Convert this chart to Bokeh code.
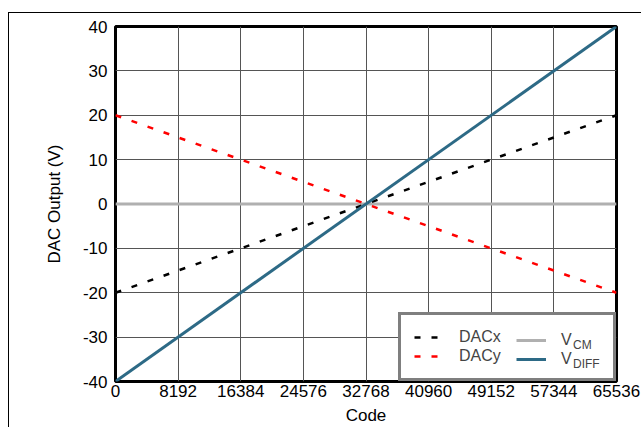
from bokeh.plotting import figure
from bokeh.models import Range1d, FixedTicker, Legend, LegendItem
from bokeh.embed import file_html
from bokeh.resources import INLINE

# ---- data ----
code = [0, 65536]
dacx = [-20, 20]
dacy = [20, -20]
vcm = [0, 0]
vdiff = [-40, 40]
x_ticks = [0, 8192, 16384, 24576, 32768, 40960, 49152, 57344, 65536]
y_ticks = [-40, -30, -20, -10, 0, 10, 20, 30, 40]

FONT = "Liberation Sans"

p = figure(width=633, height=415, output_backend="svg", toolbar_location=None,
           x_range=Range1d(0, 65536), y_range=Range1d(-40, 40),
           min_border_left=106, min_border_right=26, min_border_top=13, min_border_bottom=47)
p.styles = {"margin-left": "8px", "margin-top": "12px",
            "border-left": "1px solid black", "border-top": "1px solid black"}

p.outline_line_color = "black"
p.outline_line_width = 3
p.background_fill_color = "white"
p.border_fill_color = "white"

p.xaxis.ticker = FixedTicker(ticks=x_ticks)
p.yaxis.ticker = FixedTicker(ticks=y_ticks)
p.yaxis.major_label_overrides = {t: str(t) for t in y_ticks}
p.xaxis.major_label_overrides = {t: str(t) for t in x_ticks}
for ax in (p.xaxis, p.yaxis):
    ax.axis_line_color = None
    ax.major_tick_line_color = None
    ax.minor_tick_line_color = None
    ax.major_tick_out = 0
    ax.major_tick_in = 0
    ax.minor_tick_out = 0
    ax.major_label_text_font = FONT
    ax.major_label_text_font_size = "17px"
    ax.major_label_text_color = "black"
    ax.axis_label_text_font = FONT
    ax.axis_label_text_font_size = "17px"
    ax.axis_label_text_font_style = "normal"
    ax.axis_label_text_color = "black"
p.xaxis.axis_label = "Code"
p.yaxis.axis_label = "DAC Output (V)"
p.xaxis.major_label_standoff = 3
p.yaxis.major_label_standoff = 8
p.xaxis.axis_label_standoff = 6
p.yaxis.axis_label_standoff = 16

p.grid.grid_line_color = "#555555"
p.grid.grid_line_width = 1
p.grid.grid_line_alpha = 1

r_vcm = p.line(code, vcm, line_color="#b0b0b0", line_width=3)
r_dacx = p.line(code, dacx, line_color="black", line_width=2.5, line_dash="6 11")
r_dacy = p.line(code, dacy, line_color="#ff0000", line_width=2.5, line_dash="6 11")
r_vdiff = p.line(code, vdiff, line_color="#2d6a86", line_width=3)

common = dict(location="bottom_right", spacing=1, glyph_height=18, label_height=18,
              label_text_font=FONT)

legend_a = Legend(items=[LegendItem(label="DACx", renderers=[r_dacx]),
                         LegendItem(label="DACy", renderers=[r_dacy])],
                  margin=0, padding=13, label_width=141, glyph_width=30, label_standoff=15,
                  label_text_font_size="16px",
                  border_line_color="black", border_line_width=3,
                  background_fill_color="white", background_fill_alpha=1, **common)
legend_b = Legend(items=[LegendItem(label="V", renderers=[r_vcm]),
                         LegendItem(label="V", renderers=[r_vdiff])],
                  margin=13, padding=0, label_width=42, glyph_width=30, label_standoff=15,
                  label_text_font_size="16px",
                  border_line_color=None, background_fill_alpha=0, **common)
# subscripts of the V labels
legend_c = Legend(items=[LegendItem(label="CM", renderers=[r_vcm]),
                         LegendItem(label="DIFF", renderers=[r_vdiff])],
                  margin=8, padding=0, label_width=35, glyph_width=0, label_standoff=0,
                  label_text_font_size="12px",
                  border_line_color=None, background_fill_alpha=0, **common)
p.add_layout(legend_a)
p.add_layout(legend_b)
p.add_layout(legend_c)

open("out.html", "w").write(file_html(p, INLINE))
